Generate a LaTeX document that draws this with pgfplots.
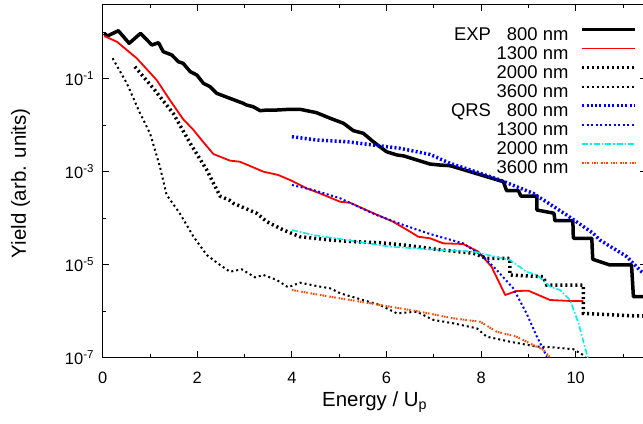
\documentclass[border=0pt]{standalone}
\usepackage{fontspec}
\setmainfont{Liberation Sans}
\usepackage{pgfplots}
\pgfplotsset{compat=1.18}
\definecolor{qcyan}{RGB}{0,240,240}
\definecolor{qorange}{RGB}{255,69,0}
\definecolor{qblue}{RGB}{0,0,255}
\definecolor{qred}{RGB}{255,0,0}
\begin{document}
\begin{tikzpicture}
\begin{axis}[
  scale only axis, width=543.95bp, height=353.4bp,
  at={(102.7bp,66.3bp)}, anchor=south west,
  xmin=0, xmax=11.5, ymode=log, ymin=1e-7, ymax=3.981,
  xtick={0,2,4,6,8,10}, xticklabels={0,2,4,6,8,10},
  minor xtick={1,3,5,7,9,11},
  ytick={1e-7,1e-5,1e-3,1e-1},
  yticklabels={10\textsuperscript{-7},10\textsuperscript{-5},10\textsuperscript{-3},10\textsuperscript{-1}},
  minor ytick={1e-6,1e-4,1e-2,1},
  major tick length=6.5bp, minor tick length=3.5bp,
  tick style={black, line width=1bp},
  axis line style={line width=1.2bp},
  ticklabel style={font=\fontsize{16.5}{18}\selectfont},
  xticklabel style={inner sep=0pt, anchor=north, yshift=-14bp},
  yticklabel style={inner sep=0pt, anchor=east, xshift=-8.5bp},
  xlabel={Energy / U\textsubscript{p}},
  xlabel style={at={(axis description cs:0.5,-0.1387)}, anchor=base, inner sep=0pt, font=\fontsize{20.5}{22}\selectfont},
  ylabel={Yield (arb. units)},
  ylabel style={at={(axis description cs:-0.141,0.4935)}, anchor=base, inner sep=0pt, font=\fontsize{20.5}{22}\selectfont},
  legend style={draw=none, fill=none, at={(axis description cs:0.9822,0.9369)}, anchor=north east,
    inner sep=0pt, outer sep=0pt, column sep=12bp, row sep=0pt,
    font=\fontsize{18.5}{19}\selectfont,
    nodes={inner sep=0pt, text height=13.5bp, text depth=5.55bp}},
  legend cell align=right,
  legend plot pos=right,
  legend image code/.code={\draw[#1] (0bp,6.6bp) -- (53bp,6.6bp);},
]
% EXP 800 nm
\addplot[black, line width=3.5bp, line join=round] table {
0.03 0.946
0.10 0.828
0.33 1.076
0.56 0.577
0.80 0.946
1.04 0.531
1.18 0.594
1.28 0.381
1.46 0.324
1.60 0.232
1.70 0.214
1.85 0.142
1.99 0.120
2.13 0.0796
2.27 0.0673
2.41 0.0485
2.69 0.0378
2.97 0.0296
3.04 0.0272
3.18 0.0250
3.33 0.0205
3.47 0.0212
3.68 0.0212
3.96 0.0220
4.17 0.0220
4.52 0.0186
4.81 0.0141
5.09 0.0110
5.30 0.00762
5.51 0.0067
5.72 0.00442
6.00 0.00269
6.22 0.00229
6.36 0.00219
6.64 0.00179
6.92 0.00146
7.13 0.00139
7.34 0.00135
7.70 0.00105
8.12 7.8e-4
8.47 6.1e-4
8.54 3.9e-4
8.79 3.9e-4
8.84 3.0e-4
9.18 3.0e-4
9.18 1.5e-4
9.54 1.28e-4
9.56 8.83e-5
9.94 8.83e-5
9.95 3.7e-5
10.34 3.7e-5
10.36 1.31e-5
10.72 9.86e-6
11.18 9.86e-6
11.22 2.05e-6
11.45 2.05e-6
};
% EXP 1300 nm
\addplot[qred, line width=1.8bp, line join=round] table {
0.03 0.828
0.30 0.625
0.72 0.275
1.14 0.0938
1.42 0.0348
1.70 0.0135
1.92 0.00789
2.09 0.00481
2.34 0.0024
2.69 0.00173
2.90 0.00164
3.40 0.0010
3.71 8.5e-4
3.96 6.64e-4
4.31 4.4e-4
4.59 3.43e-4
5.02 2.26e-4
5.23 2.15e-4
5.65 1.38e-4
6.14 8.4e-5
6.50 5.13e-5
6.67 4.0e-5
6.92 3.7e-5
7.20 2.88e-5
7.62 2.79e-5
7.94 1.91e-5
8.22 9.06e-6
8.51 2.23e-6
8.75 2.72e-6
9.00 2.76e-6
9.46 1.74e-6
9.88 1.66e-6
10.16 1.66e-6
};
% EXP 2000 nm
\addplot[black, line width=3.5bp, dash pattern=on 2bp off 3bp] table {
0.68 0.181
1.07 0.0622
1.49 0.018
1.85 0.00408
2.20 0.00109
2.48 3.0e-4
2.69 2.4e-4
2.76 2.1e-4
3.26 1.27e-4
3.47 8.4e-5
3.82 5.57e-5
4.17 4.0e-5
4.81 3.4e-5
5.30 3.13e-5
5.86 2.97e-5
6.36 2.66e-5
7.06 2.14e-5
7.84 1.76e-5
8.12 1.37e-5
8.61 1.37e-5
8.61 6.0e-6
9.31 5.52e-6
9.39 3.66e-6
10.16 3.66e-6
10.16 9.0e-7
11.29 7.9e-7
11.45 7.9e-7
};
% EXP 3600 nm
\addplot[black, line width=2bp, dash pattern=on 2bp off 3bp] table {
0.21 0.275
0.51 0.0796
0.79 0.018
1.00 0.0067
1.21 0.00128
1.35 3.2e-4
1.63 1.27e-4
1.92 4.0e-5
2.20 1.62e-5
2.48 9.86e-6
2.69 7.07e-6
2.94 7.96e-6
3.22 5.36e-6
3.40 6.0e-6
3.68 4.69e-6
3.92 3.27e-6
4.17 4.1e-6
4.60 3.37e-6
4.81 3.1e-6
5.02 2.43e-6
5.86 1.36e-6
6.22 9.0e-7
6.64 9.75e-7
6.99 6.5e-7
7.41 5.5e-7
7.91 4.28e-7
8.12 2.83e-7
8.61 2.21e-7
9.18 1.73e-7
9.53 1.67e-7
9.95 1.52e-7
10.16 1.14e-7
10.25 0.9e-7
};
% QRS 800 nm
\addplot[qblue, line width=3.5bp, dash pattern=on 2bp off 2.3bp] table {
4.00 0.00566
4.52 0.00481
5.16 0.00442
5.72 0.00375
6.29 0.00318
6.92 0.00235
7.34 0.00152
7.70 0.00115
8.40 6.64e-4
9.10 3.43e-4
9.81 1.17e-4
10.37 4.73e-5
10.51 3.4e-5
11.08 1.49e-5
11.39 7.07e-6
11.50 5.8e-6
};
% QRS 1300 nm
\addplot[qblue, line width=2bp, dash pattern=on 2bp off 2.5bp] table {
4.00 5.18e-4
4.45 4.04e-4
5.02 2.68e-4
5.79 1.17e-4
6.36 7.14e-5
6.92 4.57e-5
7.62 2.88e-5
8.05 1.49e-5
8.33 7.69e-6
8.68 3.1e-6
8.96 9.0e-7
9.18 2.83e-7
9.39 1.05e-7
};
% QRS 2000 nm
\addplot[qcyan, line width=1.6bp, dash pattern=on 6bp off 2bp on 1.5bp off 2bp] table {
4.00 5.57e-5
4.45 4.35e-5
5.16 3.4e-5
6.07 2.44e-5
6.92 2.14e-5
7.84 1.91e-5
8.61 1.26e-5
8.96 7.07e-6
9.18 6.0e-6
9.46 3.37e-6
9.67 2.86e-6
9.88 1.74e-6
10.06 5.5e-7
10.23 1.25e-7
10.26 1.0e-7
};
% QRS 3600 nm
\addplot[qorange, line width=2bp, dash pattern=on 1.5bp off 1bp on 1.5bp off 1bp on 1.5bp off 3bp] table {
4.00 2.86e-6
4.60 2.23e-6
4.81 2.05e-6
5.65 1.48e-6
6.71 9.75e-7
7.41 7.03e-7
7.98 5.94e-7
8.33 3.62e-7
8.75 2.83e-7
9.10 1.87e-7
9.32 1.47e-7
9.46 1.0e-7
};
\legend{EXP\hspace{16bp}800 nm, 1300 nm, 2000 nm, 3600 nm, QRS\hspace{16bp}800 nm, 1300 nm, 2000 nm, 3600 nm}
\end{axis}
\pgfresetboundingbox
\path[use as bounding box] (0,0) rectangle (643bp,424bp);
\end{tikzpicture}
\end{document}
